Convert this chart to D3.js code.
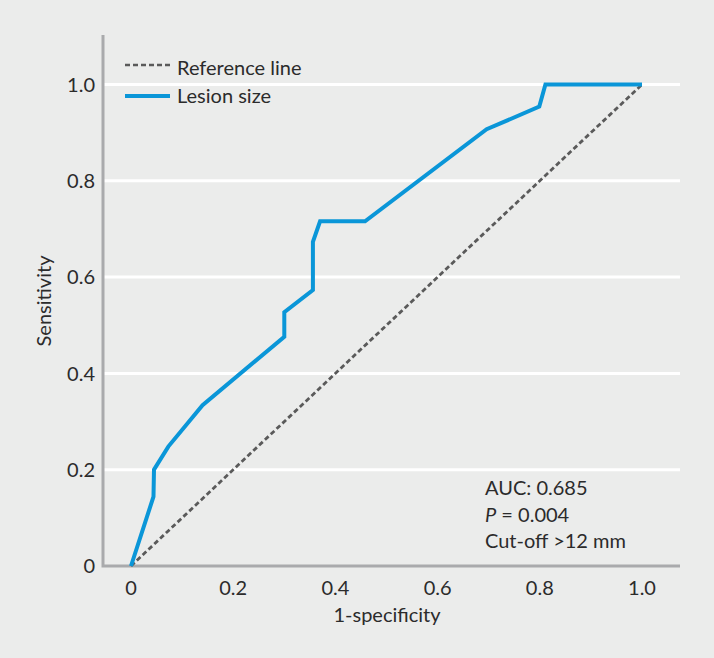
<!DOCTYPE html>
<html>
<head>
<meta charset="utf-8">
<script src="https://cdn.jsdelivr.net/npm/d3@7"></script>
<style>
  body { margin: 0; background: #ebeceb; }
  svg { display: block; }
</style>
</head>
<body>
<div id="chart"></div>
<script>
// ROC curve for lesion size
const fpr = [0, 0.044, 0.045, 0.073, 0.140, 0.300, 0.300, 0.356, 0.356, 0.370, 0.458, 0.696, 0.799, 0.811, 1.0];
const tpr = [0, 0.144, 0.200, 0.248, 0.334, 0.476, 0.527, 0.573, 0.673, 0.716, 0.716, 0.907, 0.954, 1.0, 1.0];
const refX = [0, 1];
const refY = [0, 1];
const ticks = [0, 0.2, 0.4, 0.6, 0.8, 1.0];
const notes = ["AUC: 0.685", "P = 0.004", "Cut-off >12 mm"];

const width = 714, height = 658;
const font = "Lato, 'Noto Sans', sans-serif";
const fs = "20px";
const ink = "#2b2b2b";

const svg = d3.select("#chart").append("svg")
    .attr("width", width)
    .attr("height", height)
    .style("font-family", font);

svg.append("rect").attr("width", width).attr("height", height).attr("fill", "#ebeceb");

const x = d3.scaleLinear().domain([0, 1]).range([131, 642]);
const y = d3.scaleLinear().domain([0, 1]).range([566, 84.5]);
const plotLeft = 103, plotRight = 680, plotTop = 35;

const fmt = d => d === 0 ? "0" : d3.format(".1f")(d);

// gridlines
svg.append("g")
    .selectAll("line")
    .data(ticks.filter(d => d > 0))
    .enter().append("line")
    .attr("x1", plotLeft).attr("x2", plotRight)
    .attr("y1", d => y(d)).attr("y2", d => y(d))
    .attr("stroke", "#fff")
    .attr("stroke-width", 3);

// axes lines
svg.append("path")
    .attr("d", `M${plotLeft},${plotTop}V${y(0)}H${plotRight}`)
    .attr("fill", "none")
    .attr("stroke", "#a9aaac")
    .attr("stroke-width", 3);

// tick labels
svg.append("g")
    .selectAll("text")
    .data(ticks)
    .enter().append("text")
    .attr("x", plotLeft - 8)
    .attr("y", d => y(d))
    .attr("dy", "0.36em")
    .attr("text-anchor", "end")
    .style("font-size", fs)
    .attr("fill", ink)
    .text(fmt);

svg.append("g")
    .selectAll("text")
    .data(ticks)
    .enter().append("text")
    .attr("x", d => x(d))
    .attr("y", 595)
    .attr("text-anchor", "middle")
    .style("font-size", fs)
    .attr("fill", ink)
    .text(fmt);

// axis titles
svg.append("text")
    .attr("x", 387).attr("y", 622)
    .attr("text-anchor", "middle")
    .style("font-size", fs)
    .attr("fill", ink)
    .text("1-specificity");

svg.append("text")
    .attr("transform", "translate(51,301) rotate(-90)")
    .attr("text-anchor", "middle")
    .style("font-size", fs)
    .attr("fill", ink)
    .text("Sensitivity");

// reference line
const line = d3.line().x(d => x(d[0])).y(d => y(d[1]));
svg.append("path")
    .datum(d3.zip(refX, refY))
    .attr("d", line)
    .attr("fill", "none")
    .attr("stroke", "#5a5a5a")
    .attr("stroke-width", 2.8)
    .attr("stroke-dasharray", "5,3");

// ROC curve
svg.append("path")
    .datum(d3.zip(fpr, tpr))
    .attr("d", line)
    .attr("fill", "none")
    .attr("stroke", "#0a96d8")
    .attr("stroke-width", 4)
    .attr("stroke-linejoin", "miter");

// legend
const legend = svg.append("g");
legend.append("line")
    .attr("x1", 125).attr("x2", 170).attr("y1", 65).attr("y2", 65)
    .attr("stroke", "#5a5a5a").attr("stroke-width", 2.5).attr("stroke-dasharray", "5,3");
legend.append("text")
    .attr("x", 177).attr("y", 75)
    .style("font-size", fs).attr("fill", ink)
    .text("Reference line");
legend.append("line")
    .attr("x1", 125).attr("x2", 170).attr("y1", 96).attr("y2", 96)
    .attr("stroke", "#0a96d8").attr("stroke-width", 4);
legend.append("text")
    .attr("x", 177).attr("y", 103)
    .style("font-size", fs).attr("fill", ink)
    .text("Lesion size");

// annotation
const ann = svg.append("text")
    .style("font-size", fs)
    .attr("fill", ink);
notes.forEach((n, i) => {
    const t = ann.append("tspan").attr("x", 485).attr("y", 495 + i * 26.7);
    if (n.startsWith("P ")) {
        t.append("tspan").style("font-style", "italic").text("P");
        t.append("tspan").text(n.slice(1));
    } else {
        t.text(n);
    }
});
</script>
</body>
</html>
